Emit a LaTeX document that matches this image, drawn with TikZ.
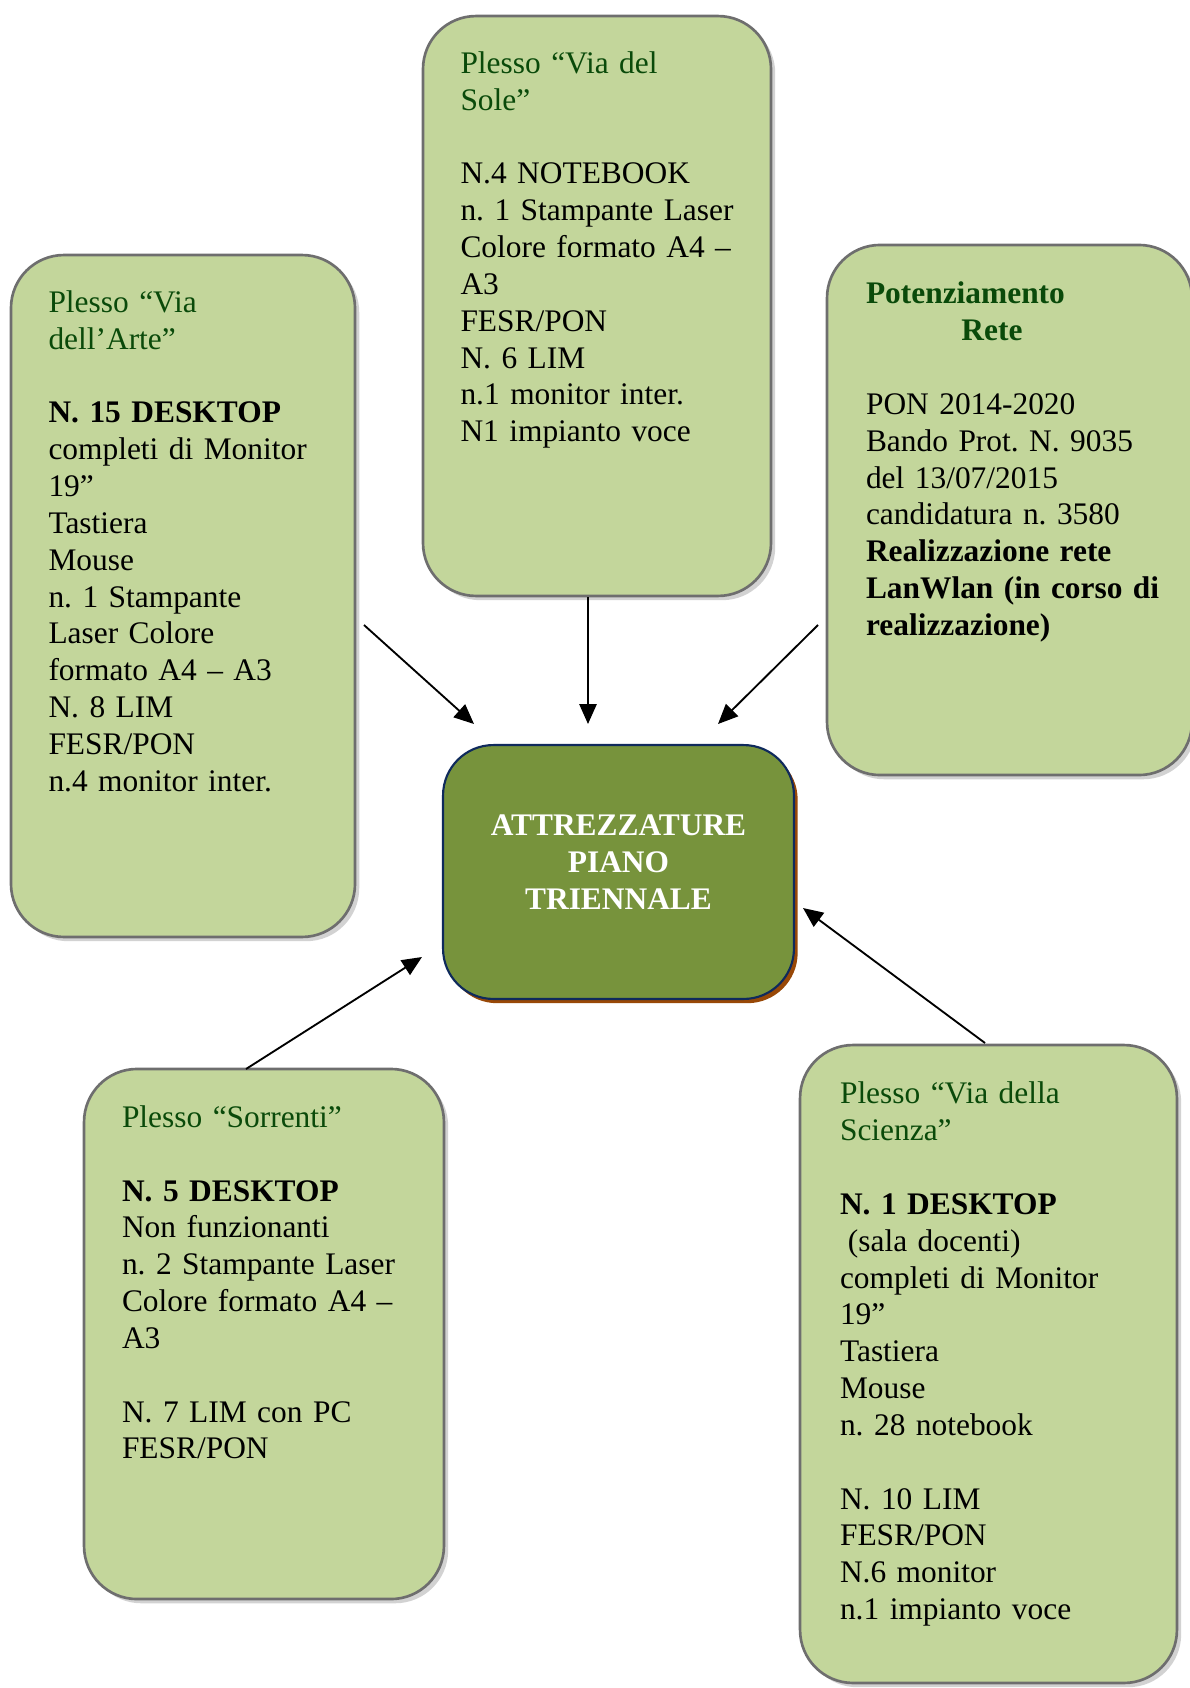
\documentclass[tikz,border=0pt]{standalone}
\usepackage{fontspec}
\setmainfont{Liberation Serif}
\frenchspacing
\usetikzlibrary{shadows,arrows.meta}
\definecolor{verdechiaro}{HTML}{C3D69B}
\definecolor{verdescuro}{HTML}{77933C}
\definecolor{titolo}{HTML}{0A4A0A}
\definecolor{bordo}{HTML}{6E6E6E}
\definecolor{blunotte}{HTML}{0F2A5C}
\definecolor{marrone}{HTML}{984807}
\tikzset{
  plesso/.style={draw=bordo, line width=1pt, fill=verdechiaro, rounded corners=20pt,
    drop shadow={shadow xshift=1.6pt, shadow yshift=-1.6pt, fill=black!35}, inner sep=0pt},
  centro/.style={draw=blunotte, line width=0.8pt, fill=verdescuro, rounded corners=19pt,
    drop shadow={shadow xshift=1.4pt, shadow yshift=-1.6pt, fill=marrone, opacity=1}, inner sep=0pt},
  testo/.style={anchor=north west, inner sep=0pt, align=left, text width=150pt,
    font=\fontsize{11.85}{13.9}\selectfont},
  freccia/.style={-{Triangle[length=7.5pt,width=6.5pt]}, line width=0.7pt}
}
\begin{document}
\begin{tikzpicture}[x=0.3773pt, y=-0.3773pt]
    \useasboundingbox (0,0) rectangle (1190,1688);
    \node[plesso, minimum width=129.8pt, minimum height=257.3pt] (arte) at (183,596) {};
    \node[plesso, minimum width=131.3pt, minimum height=218.8pt] (sole) at (597,306) {};
    \node[plesso, minimum width=137.7pt, minimum height=200pt] (rete) at (1009.5,510) {};
    \node[plesso, minimum width=135.8pt, minimum height=200pt] (sorrenti) at (264,1334) {};
    \node[plesso, minimum width=142.2pt, minimum height=240.7pt] (scienza) at (988.5,1364) {};
    \node[centro, minimum width=132.4pt, minimum height=95.8pt] (att) at (618.5,872) {};

    \node[testo] (tarte) at (48,290) {\textcolor{titolo}{Plesso “Via}\\
        \textcolor{titolo}{dell’Arte”}\\ \mbox{}\\
        \textbf{N. 15 DESKTOP}\\ completi di Monitor\\ 19”\\ Tastiera\\ Mouse\\
        n. 1 Stampante\\ Laser Colore\\ formato A4 – A3\\ N. 8 LIM\\ FESR/PON\\
        n.4 monitor inter.};
    \node[testo] (tsole) at (460,51) {\textcolor{titolo}{Plesso “Via del}\\
        \textcolor{titolo}{Sole”}\\ \mbox{}\\
        N.4 NOTEBOOK\\ n. 1 Stampante Laser\\ Colore formato A4 –\\ A3\\ FESR/PON\\
        N. 6 LIM\\ n.1 monitor inter.\\ N1 impianto voce};
    \node[testo] (trete) at (865.5,281.5) {\textcolor{titolo}{\textbf{Potenziamento}}\\
        \hspace*{36pt}\textcolor{titolo}{\textbf{Rete}}\\ \mbox{}\\
        PON 2014-2020\\ Bando Prot. N. 9035\\ del 13/07/2015\\ candidatura n. 3580\\
        \textbf{Realizzazione rete}\\ \textbf{LanWlan (in corso di}\\ \textbf{realizzazione)}};
    \node[testo] (tsorrenti) at (121.5,1105) {\textcolor{titolo}{Plesso “Sorrenti”}\\ \mbox{}\\
        \textbf{N. 5 DESKTOP}\\ Non funzionanti\\ n. 2 Stampante Laser\\
        Colore formato A4 –\\ A3\\ \mbox{}\\ N. 7 LIM con PC\\ FESR/PON};
    \node[testo] (tscienza) at (839.5,1081.5) {\textcolor{titolo}{Plesso “Via della}\\
        \textcolor{titolo}{Scienza”}\\ \mbox{}\\
        \textbf{N. 1 DESKTOP}\\ \hspace*{3pt}(sala docenti)\\ completi di Monitor\\ 19”\\
        Tastiera\\ Mouse\\ n. 28 notebook\\ \mbox{}\\ N. 10 LIM\\ FESR/PON\\
        N.6 monitor\\ n.1 impianto voce};
    \node[align=center, inner sep=0pt, text=white, font=\fontsize{11.85}{13.9}\selectfont\bfseries]
        (tatt) at (618.5,862) {ATTREZZATURE\\ PIANO\\ TRIENNALE};

    \coordinate (daArte) at (364,625);
    \coordinate (inArte) at (474,724);
    \coordinate (inSole) at (588,724);
    \coordinate (daRete) at (818,625);
    \coordinate (inRete) at (718,724);
    \coordinate (daSorrenti) at (246,1069);
    \coordinate (inSorrenti) at (422,957);
    \coordinate (daScienza) at (985,1043);
    \coordinate (inScienza) at (803,908);
    \draw[freccia] (daArte) -- (inArte);
    \draw[freccia] (sole.south -| inSole) -- (inSole);
    \draw[freccia] (daRete) -- (inRete);
    \draw[freccia] (daSorrenti) -- (inSorrenti);
    \draw[freccia] (daScienza) -- (inScienza);
\end{tikzpicture}
\end{document}
